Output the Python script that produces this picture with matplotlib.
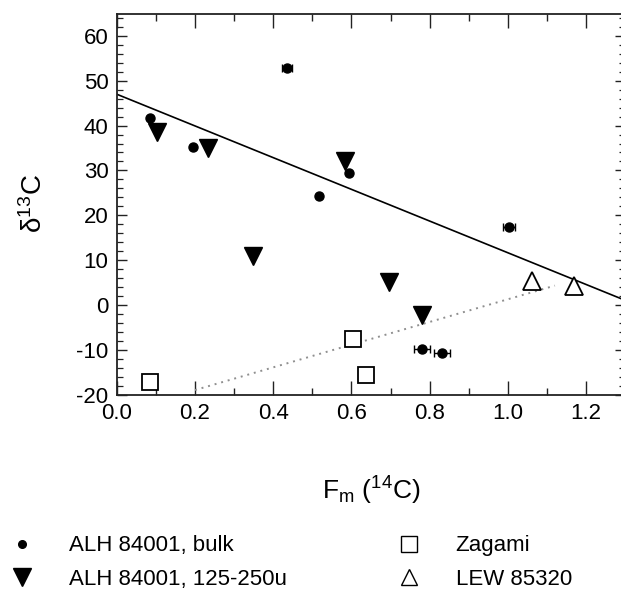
import matplotlib
matplotlib.use("Agg")
import matplotlib.pyplot as plt
from matplotlib.lines import Line2D
from matplotlib.ticker import MultipleLocator

plt.rcParams['font.family'] = ['Liberation Sans', 'DejaVu Sans']
plt.rcParams['mathtext.fontset'] = 'custom'
plt.rcParams['mathtext.rm'] = 'Liberation Sans'
plt.rcParams['mathtext.it'] = 'Liberation Sans:italic'
plt.rcParams['axes.unicode_minus'] = False

# ALH 84001 bulk (filled circles), some with horizontal error bars
bulk_x = [0.085, 0.194, 0.435, 0.517, 0.594, 1.003, 0.780, 0.832]
bulk_y = [41.6, 35.3, 52.9, 24.3, 29.4, 17.4, -9.9, -10.8]
bulk_xerr = [0.0, 0.0, 0.012, 0.0, 0.0, 0.015, 0.02, 0.02]

# ALH 84001 125-250u (filled down triangles)
fine_x = [0.102, 0.232, 0.349, 0.584, 0.696, 0.780]
fine_y = [38.6, 35.0, 11.0, 32.1, 5.1, -2.3]

# Zagami (open squares)
zag_x = [0.085, 0.605, 0.637]
zag_y = [-17.2, -7.6, -15.7]

# LEW 85320 (open up triangles)
lew_x = [1.062, 1.170]
lew_y = [5.4, 4.3]

# regression lines
fit_x = [0.0, 1.3]
fit_y = [47.0, 1.0]
mix_x = [0.2, 1.12]
mix_y = [-19.0, 4.3]

fig = plt.figure(figsize=(6.21, 5.93), dpi=100)
ax = fig.add_axes([0.188, 0.3347, 0.819, 0.6425])

ax.plot(fit_x, fit_y, color='black', lw=1.2)
ax.plot(mix_x, mix_y, color='#8f8f8f', lw=1.4, ls=(0, (1, 2.5)))

ax.errorbar(bulk_x, bulk_y, xerr=bulk_xerr, fmt='o', color='black',
            ms=6.5, elinewidth=1.0, capsize=3, capthick=1.0)
ax.plot(fine_x, fine_y, 'v', color='black', ms=13)
ax.plot(zag_x, zag_y, 's', mfc='white', mec='black', mew=1.3, ms=11.5)
ax.plot(lew_x, lew_y, '^', mfc='white', mec='black', mew=1.3, ms=13)

ax.set_xlim(0, 1.3)
ax.set_ylim(-20, 65)
ax.xaxis.set_minor_locator(MultipleLocator(0.1))
ax.yaxis.set_minor_locator(MultipleLocator(2))
ax.set_xticks([0.0, 0.2, 0.4, 0.6, 0.8, 1.0, 1.2])
ax.set_yticks([-20, -10, 0, 10, 20, 30, 40, 50, 60])

ax.tick_params(axis='both', which='both', direction='in',
               top=True, right=True, labelsize=16, color='#222222')
ax.tick_params(axis='x', which='major', length=10, width=1.0, pad=6)
ax.tick_params(axis='x', which='minor', length=5, width=1.0)
ax.tick_params(axis='y', which='major', length=7, width=1.0, pad=6)
ax.tick_params(axis='y', which='minor', length=4, width=0.9)
for sp in ax.spines.values():
    sp.set_linewidth(1.3)
    sp.set_color('#222222')

ax.set_xlabel('F$_{\\mathrm{m}}$ ($^{14}$C)', fontsize=19)
ax.xaxis.set_label_coords(0.5, -0.21)
ax.set_ylabel('δ$^{13}$C', fontsize=20)
ax.yaxis.set_label_coords(-0.135, 0.5)

handles = [
    Line2D([], [], marker='o', ls='', color='black', ms=5.5),
    Line2D([], [], marker='v', ls='', color='black', ms=13),
    Line2D([], [], marker='s', ls='', mfc='white', mec='black', mew=1.0, ms=11),
    Line2D([], [], marker='^', ls='', mfc='white', mec='black', mew=1.0, ms=12),
]
labels = ['ALH 84001, bulk', 'ALH 84001, 125-250u', 'Zagami', 'LEW 85320']
fig.legend(handles, labels, loc='upper left', bbox_to_anchor=(0.018, 0.097),
           ncol=2, frameon=False, fontsize=16, handlelength=1.0,
           handletextpad=1.6, columnspacing=5.0, labelspacing=0.55,
           borderaxespad=0, borderpad=0)

fig.savefig('out.png', dpi=100)
